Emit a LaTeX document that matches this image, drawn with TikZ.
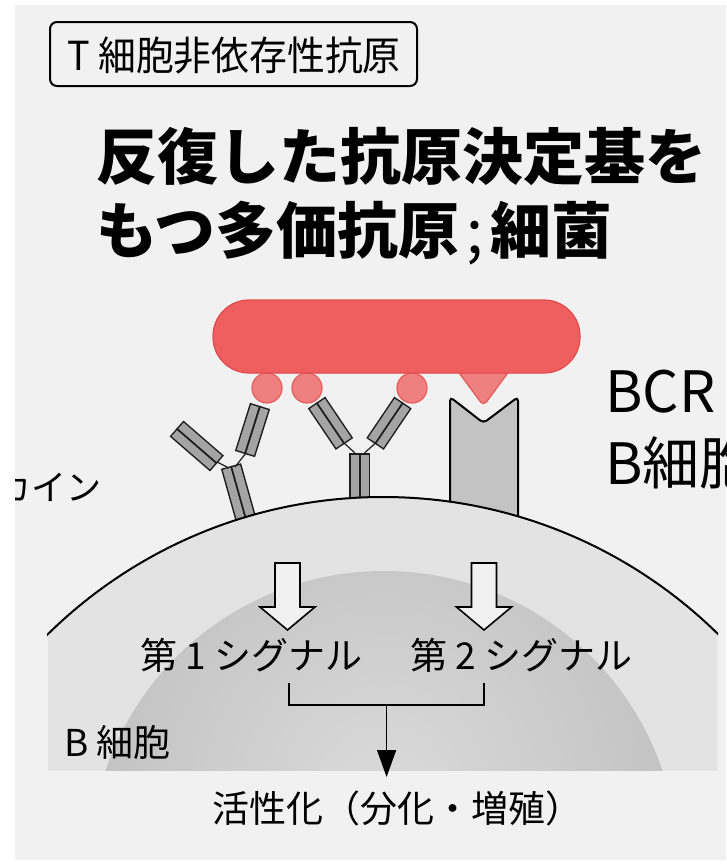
\documentclass[tikz,border=0pt]{standalone}
\usepackage{fontspec}
\usepackage{graphicx}
\usetikzlibrary{arrows.meta}
\newfontfamily\jp{Noto Sans CJK JP}

\definecolor{page}{HTML}{F1F1F1}
\definecolor{cellbg}{HTML}{E3E3E3}
\definecolor{domein}{HTML}{DADADA}
\definecolor{domeout}{HTML}{ADADAD}
\definecolor{bact}{HTML}{EF5F5F}
\definecolor{bactedge}{HTML}{E24A4A}
\definecolor{epi}{HTML}{EE8080}
\definecolor{epiedge}{HTML}{E65A5A}
\definecolor{rcpt}{HTML}{C3C3C3}
\definecolor{abgray}{HTML}{A4A4A4}
\definecolor{abedge}{HTML}{1E1E1E}

\tikzset{
  abline/.style={line width=11pt, draw=abedge, line cap=rect},
  abfill/.style={line width=8pt, draw=abgray, line cap=rect},
  hinge/.style={line width=1.2pt, draw=abedge},
  lbl/.style={inner sep=0pt, anchor=west, text=black},
  sigarrow/.style={fill=page, draw=black, line width=1.6pt, line join=miter},
  epitope/.style={fill=epi, draw=epiedge, line width=1.2pt},
}
% one immunoglobulin chain segment: black outline, grey body
\newcommand\abbar[2]{\draw[abline] #1 -- #2; \draw[abfill] #1 -- #2;}

\begin{document}
\begin{tikzpicture}[x=1pt,y=-1pt]
\useasboundingbox (0,0) rectangle (726,865);
\fill[white] (0,0) rectangle (726,865);
\begin{scope}
\clip (15,5) rectangle (726,860);
\fill[page] (15,5) rectangle (726,860);

% heading box
\draw[line width=2pt, rounded corners=7pt] (50,22) rectangle (417,86);
\node[lbl, font=\jp\fontsize{40}{44}\selectfont] (head) at (67,55)
  {\scalebox{0.945}[1]{T 細胞非依存性抗原}};

% title
\node[lbl, font=\jp\bfseries\fontsize{61}{66}\selectfont] (title1) at (96,156) {反復した抗原決定基を};
\node[lbl, font=\jp\bfseries\fontsize{61}{66}\selectfont] (title2) at (96,233)
  {もつ多価抗原\hspace{7pt}{\mdseries;}\hspace{7pt}細菌};

% side labels
\node[lbl, font=\jp\fontsize{35}{38}\selectfont] (cyto) at (-4,487) {カイン};
\node[lbl, font=\jp\fontsize{57}{60}\selectfont] (bcr) at (605,392) {BCR};
\node[lbl, font=\jp\fontsize{57}{60}\selectfont] (bcell2) at (605,463) {B細胞};

% second receptor with its antigen
\filldraw[fill=rcpt, draw=black, line width=2pt, rounded corners=4pt]
  (450,540) -- (450,397) -- (483.5,423) -- (518,397) -- (518,540) -- cycle;
\filldraw[epitope, rounded corners=5pt] (454,366) -- (513,366) -- (483.5,406) -- cycle;

% repeated epitopes
\filldraw[epitope] (267,388) circle (15);
\filldraw[epitope] (307,388) circle (15);
\filldraw[epitope] (412,388) circle (15);

% bacterium
\filldraw[fill=bact, draw=bactedge, line width=1.2pt, rounded corners=36pt] (213,300) rectangle (580,373);

% antibody on the left
\abbar{(227.7,472.65)}{(246.6,540)}
\abbar{(237.3,469.95)}{(256.2,537.4)}
\abbar{(253.6,409.7)}{(241.8,447.3)}
\abbar{(263.2,412.7)}{(251.4,450.3)}
\abbar{(184,428.3)}{(216.1,456.1)}
\abbar{(177.4,435.9)}{(209.5,463.7)}
\draw[hinge] (217,462) -- (229,468);
\draw[hinge] (246,453) -- (235,467);

% antibody in the middle
\abbar{(354.75,458.5)}{(354.75,540)}
\abbar{(364.75,458.5)}{(364.75,540)}
\abbar{(315.45,409.9)}{(337.25,442.2)}
\abbar{(323.75,404.3)}{(345.55,436.6)}
\abbar{(404.05,409.9)}{(382.25,442.2)}
\abbar{(395.75,404.3)}{(373.95,436.6)}
\draw[hinge] (344,443) -- (355,453);
\draw[hinge] (375.5,443) -- (364.5,453);

% B cell body
\begin{scope}
  \clip (48,400) rectangle (717,770);
  \fill[cellbg] (383,975) circle (478);
  \begin{scope}
    \clip (384,865) circle (294);
    \shade[inner color=domein, outer color=domeout] (384,790) circle (560);
  \end{scope}
\end{scope}
\begin{scope}
  \clip (47,400) rectangle (718,640);
  \draw[line width=2pt] (383,975) circle (478);
\end{scope}

% signal arrows
\filldraw[sigarrow] (275,563) -- (275,607) -- (260,607) -- (287.5,630) -- (315,607) -- (300,607) -- (300,563) -- cycle;
\filldraw[sigarrow] (471.5,563) -- (471.5,607) -- (456.5,607) -- (484,630) -- (511.5,607) -- (496.5,607) -- (496.5,563) -- cycle;

\node[lbl, font=\jp\fontsize{37}{40}\selectfont] (sig1) at (140,655) {第 1 シグナル};
\node[lbl, font=\jp\fontsize{37}{40}\selectfont] (sig2) at (410,655) {第 2 シグナル};

% signals combine into activation
\coordinate (s1) at (289,683);
\coordinate (s2) at (484,683);
\coordinate (join) at (386.6,705);
\coordinate (acttop) at (386.6,777);
\draw[line width=1.5pt] (s1) |- (join) -| (s2);
\draw[line width=1.5pt, -{Triangle[length=27pt,width=19pt]}] (join) -- (acttop);

\node[lbl, font=\jp\fontsize{37}{40}\selectfont] (bcell) at (64,742) {B 細胞};
\node[lbl, font=\jp\fontsize{37}{40}\selectfont] (act) at (212,808) {活性化（分化・増殖）};
\end{scope}
\end{tikzpicture}
\end{document}
